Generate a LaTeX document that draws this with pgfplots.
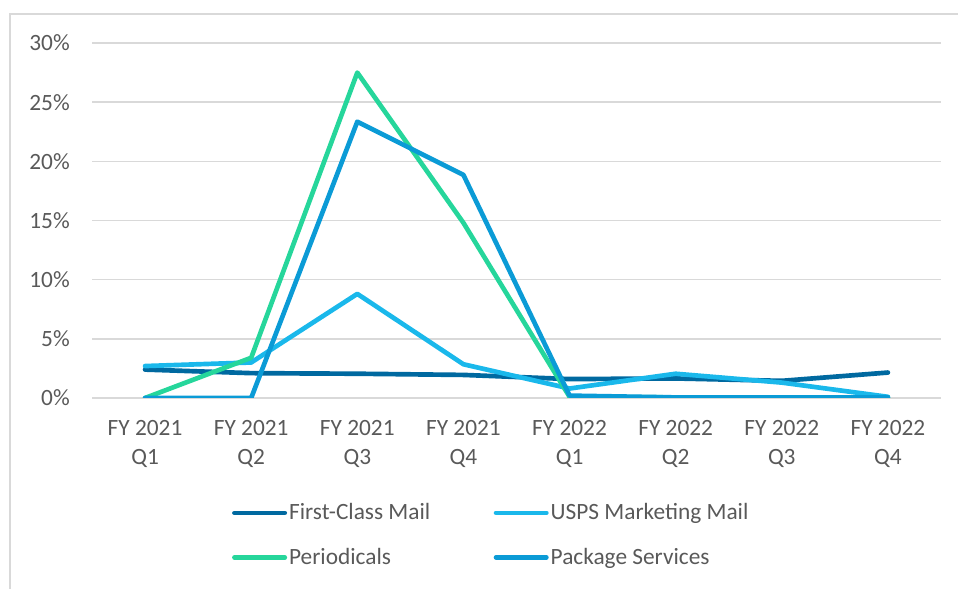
\documentclass[border=0pt]{standalone}
\usepackage{pgfplots}
\pgfplotsset{compat=1.18}
\usepackage{fontspec}
\setmainfont{Carlito}
\definecolor{fcm}{RGB}{0,105,160}
\definecolor{mkt}{RGB}{26,184,235}
\definecolor{per}{RGB}{38,214,155}
\definecolor{pkg}{RGB}{11,155,214}
\definecolor{txt}{RGB}{89,89,89}
\definecolor{gridc}{RGB}{217,217,217}
\begin{document}
\begin{tikzpicture}
\path[use as bounding box] (0,0) rectangle (718.5pt,441.75pt);
\draw[gridc, line width=1.5pt] (7.5pt,0pt) -- (7.5pt,431.25pt) -- (718.5pt,431.25pt);
\begin{axis}[
  at={(69pt,143.25pt)}, anchor=south west,
  scale only axis, width=636.75pt, height=266.25pt,
  xmin=-0.5, xmax=7.5, ymin=0, ymax=30,
  axis line style={draw=none},
  major tick length=0pt,
  xtick={0,1,2,3,4,5,6,7},
  xticklabels={{FY 2021\\Q1},{FY 2021\\Q2},{FY 2021\\Q3},{FY 2021\\Q4},{FY 2022\\Q1},{FY 2022\\Q2},{FY 2022\\Q3},{FY 2022\\Q4}},
  ytick={0,5,10,15,20,25,30},
  yticklabels={0\%,5\%,10\%,15\%,20\%,25\%,30\%},
  xmajorgrids=false,
  ymajorgrids=true,
  grid style={draw=gridc, line width=1.1pt},
  tick label style={font=\fontsize{17.5pt}{21.75pt}\selectfont, text=txt, inner sep=0pt},
  xticklabel style={align=center, anchor=north, yshift=-16.5pt},
  yticklabel style={anchor=east, xshift=-16.5pt},
  every axis plot/.append style={line width=3.5pt, line cap=round, line join=round},
  legend columns=2,
  legend cell align=left,
  legend style={at={(0.16,-0.284)}, anchor=north west, draw=none, fill=none,
    font=\fontsize{17.5pt}{21pt}\selectfont, text=txt,
    nodes={inner sep=1.5pt},
    /tikz/every even column/.append style={column sep=46pt},
    row sep=16.75pt},
  legend image code/.code={\draw[#1, line width=3.5pt, line cap=round] (1.75pt,0pt) -- (39.5pt,0pt);},
]
\addplot[fcm] coordinates {(0,2.4) (1,2.1) (2,2.05) (3,1.95) (4,1.6) (5,1.65) (6,1.45) (7,2.15)};
\addlegendentry{First-Class Mail}
\addplot[mkt] coordinates {(0,2.7) (1,3.0) (2,8.8) (3,2.85) (4,0.8) (5,2.05) (6,1.3) (7,0.1)};
\addlegendentry{USPS Marketing Mail}
\addplot[per] coordinates {(0,0) (1,3.4) (2,27.5) (3,14.8) (4,0.1) (5,0.05) (6,0.05) (7,0.05)};
\addlegendentry{Periodicals}
\addplot[pkg] coordinates {(0,0) (1,0) (2,23.35) (3,18.85) (4,0.2) (5,0.05) (6,0.05) (7,0.05)};
\addlegendentry{Package Services}
\end{axis}
\end{tikzpicture}
\end{document}
